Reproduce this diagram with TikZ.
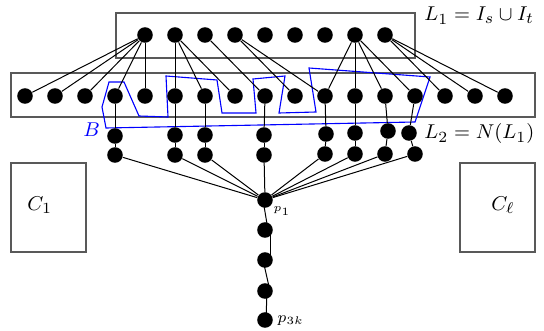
\documentclass[tikz,border=0pt]{standalone}
\usetikzlibrary{calc}
\begin{document}
\tikzset{
  vtx/.style={circle,fill=black,inner sep=0pt,minimum size=7pt},
  edge/.style={draw=black,line width=0.45pt},
  frame/.style={draw=black!65,line width=0.6pt},
  setB/.style={draw=blue,line width=0.5pt},
  lab/.style={anchor=base west,inner sep=0pt},
}
\begin{tikzpicture}[x=0.45pt,y=-0.45pt,font=\fontsize{9.5}{11.5}\selectfont]
\useasboundingbox (0,0) rectangle (544,331);

% layer frames and the components
\draw[frame] (116,13) rectangle (415,58);
\draw[frame] (11,73) rectangle (535,117);
\draw[frame] (11,163) rectangle (86,252);
\draw[frame] (460,163) rectangle (535,252);

% the set B
\draw[setB] (106,128) -- (102,107) -- (109,82) -- (124,82) -- (139,116) -- (168,117)
  -- (166,76) -- (217,80) -- (222,113) -- (256,113) -- (253,79) -- (285,76)
  -- (279,113) -- (316,112) -- (309,68) -- (430,77) -- (415,122) -- cycle;

% L1 and L2 vertices
\foreach \i in {0,...,8} \node[vtx] (a\i) at (145+30*\i,35) {};
\foreach \i in {0,...,16} \node[vtx] (b\i) at (25+30*\i,96) {};

% two-vertex paths below L2
\foreach \n/\x/\y in {1/115/136,2/175/135,3/205/135,4/264/135,5/326/134,6/355/133,7/388/131,8/409/133}
  \node[vtx] (u\n) at (\x,\y) {};
\foreach \n/\x/\y in {1/115/155,2/175/155,3/205/155,4/264/155,5/325/154,6/355/154,7/385/154,8/415/154}
  \node[vtx] (w\n) at (\x,\y) {};

% the long path p_1 ... p_{3k}
\node[vtx] (p1) at (265,200) {};
\node[vtx] (q2) at (265,230) {};
\node[vtx] (q3) at (265,260) {};
\node[vtx] (q4) at (265,291) {};
\node[vtx] (p3k) at (265,320) {};

% edges between L1 and L2
\foreach \j in {0,...,4} \draw[edge] (a0) -- (b\j);
\foreach \j in {5,6,7} \draw[edge] (a1) -- (b\j);
\draw[edge] (a2) -- (b8);
\foreach \j in {9,10} \draw[edge] (a3) -- (b\j);
\foreach \j in {10,...,13} \draw[edge] (a7) -- (b\j);
\foreach \j in {14,15,16} \draw[edge] (a8) -- (b\j);

% edges from L2 down to the paths and on to p_1
\foreach \b/\n in {3/1,5/2,6/3,8/4,10/5,11/6,12/7,13/8} \draw[edge] (b\b) -- (u\n);
\foreach \n in {1,...,8} {
  \draw[edge] (u\n) -- (w\n);
  \draw[edge] (w\n) -- (p1);
}
\draw[edge] ($(p1.center)+(-2,0)$) -- ($(q2.center)+(3,0)$);
\draw[edge] ($(q2.center)+(5,0)$) -- ($(q3.center)+(5,0)$);
\draw[edge] ($(q3.center)+(-2,0)$) -- ($(q4.center)+(5,0)$);
\draw[edge] ($(q4.center)+(2,0)$) -- ($(p3k.center)+(1,0)$);

% labels
\node[lab] (l1lab) at (424,21) {$L_1 = I_s \cup I_t$};
\node[lab] (l2lab) at (424,139) {$L_2 = N(L_1)$};
\node[lab,text=blue] (blab) at (83,137) {$B$};
\node[lab] (c1lab) at (27,210) {$C_1$};
\node[lab] (cllab) at (491,210) {$C_\ell$};
\node[lab,font=\tiny] (p1lab) at (273,212) {$p_1$};
\node[lab,font=\scriptsize] (p3klab) at (277,322) {$p_{3k}$};
\end{tikzpicture}
\end{document}
